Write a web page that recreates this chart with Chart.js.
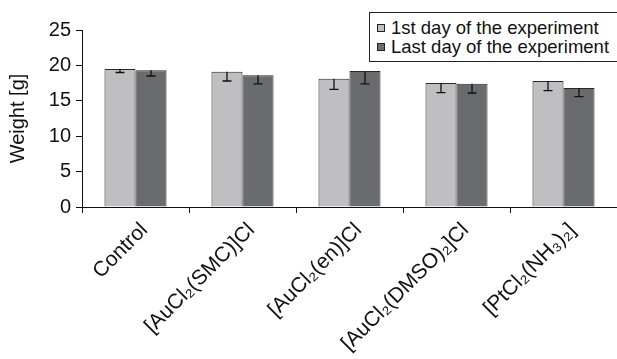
<!DOCTYPE html>
<html>
<head>
<meta charset="utf-8">
<script src="https://cdn.jsdelivr.net/npm/chart.js@4/dist/chart.umd.min.js"></script>
<style>
  html, body { margin: 0; padding: 0; background: #fff; }
  #wrap { position: relative; width: 617px; height: 359px; overflow: hidden; }
  #legend {
    position: absolute; left: 369px; top: 12px; width: 260px; height: 48px;
    border: 1px solid #222; background: #fff;
    font-family: "Liberation Sans", Arial, sans-serif; font-size: 18.5px; color: #111;
  }
  #legend div { position: absolute; left: 7px; white-space: nowrap; }
  #legend span.sw { display: inline-block; width: 6px; height: 6px; border: 1px solid #222; margin-right: 6px; vertical-align: 2px; }
</style>
</head>
<body>
<div id="wrap">
  <canvas id="weightChart" width="617" height="359"></canvas>
  <div id="legend"></div>
</div>
<script>
const categories = ['Control', '[AuCl\u2082(SMC)]Cl', '[AuCl\u2082(en)]Cl', '[AuCl\u2082(DMSO)\u2082]Cl', '[PtCl\u2082(NH\u2083)\u2082]'];
const seriesNames = ['1st day of the experiment', 'Last day of the experiment'];
const firstDay = [19.5, 19.1, 18.1, 17.5, 17.8];
const lastDay = [19.3, 18.6, 19.2, 17.4, 16.8];
const firstDayErr = [0.5, 1.3, 1.5, 1.35, 1.35];
const lastDayErr = [0.8, 1.2, 1.8, 1.3, 1.2];
const yTicks = [0, 5, 10, 15, 20, 25];

const colors = ['#bfbfc1', '#6a6b6e'];
const font = "'Liberation Sans', Arial, sans-serif";

// html legend, boxed, top right
const legendEl = document.getElementById('legend');
seriesNames.forEach((name, i) => {
  const row = document.createElement('div');
  row.style.top = (i === 0 ? 4 : 23) + 'px';
  row.innerHTML = '<span class="sw" style="background:' + colors[i] + '"></span>' + name;
  legendEl.appendChild(row);
});

// downward error bars with a cap at the bottom
const errorBars = {
  id: 'errorBars',
  afterDatasetsDraw(chart) {
    const ctx = chart.ctx;
    const y = chart.scales.y;
    const errs = [firstDayErr, lastDayErr];
    ctx.save();
    ctx.strokeStyle = '#111';
    ctx.lineWidth = 1.3;
    chart.data.datasets.forEach((ds, di) => {
      chart.getDatasetMeta(di).data.forEach((bar, i) => {
        const top = y.getPixelForValue(ds.data[i]);
        const low = y.getPixelForValue(ds.data[i] - errs[di][i]);
        ctx.beginPath();
        ctx.moveTo(bar.x, top);
        ctx.lineTo(bar.x, low);
        ctx.moveTo(bar.x - 4.5, low);
        ctx.lineTo(bar.x + 4.5, low);
        ctx.stroke();
      });
    });
    ctx.restore();
  }
};

new Chart(document.getElementById('weightChart').getContext('2d'), {
  type: 'bar',
  data: {
    labels: categories,
    datasets: [
      { label: seriesNames[0], data: firstDay, backgroundColor: colors[0], borderColor: '#2a2a2a', borderWidth: 1 },
      { label: seriesNames[1], data: lastDay, backgroundColor: colors[1], borderColor: '#2a2a2a', borderWidth: 1 }
    ]
  },
  plugins: [errorBars],
  options: {
    responsive: false,
    animation: false,
    layout: { padding: { top: 30, right: 0, left: 0, bottom: 0 } },
    datasets: { bar: { categoryPercentage: 0.58, barPercentage: 1 } },
    plugins: { legend: { display: false }, tooltip: { enabled: false } },
    scales: {
      x: {
        grid: { display: true, offset: true, drawOnChartArea: false, drawTicks: true, tickLength: 6, color: '#111', lineWidth: 1 },
        border: { display: true, color: '#111', width: 1 },
        ticks: { maxRotation: 45, minRotation: 45, color: '#111', font: { family: font, size: 21 }, padding: 5, labelOffset: 9 },
        afterFit(scale) { scale.height = 152; }
      },
      y: {
        min: 0,
        max: 25,
        afterBuildTicks(scale) { scale.ticks = yTicks.map(v => ({ value: v })); },
        grid: { display: true, drawOnChartArea: false, drawTicks: true, tickLength: 6, color: '#111', lineWidth: 1 },
        border: { display: true, color: '#111', width: 1 },
        ticks: { color: '#111', font: { family: font, size: 20 }, padding: 5 },
        title: { display: true, text: 'Weight [g]', color: '#111', font: { family: font, size: 20 }, padding: { top: 6, bottom: 0 } },
        afterFit(scale) { scale.width = 82; }
      }
    }
  }
});
</script>
</body>
</html>
